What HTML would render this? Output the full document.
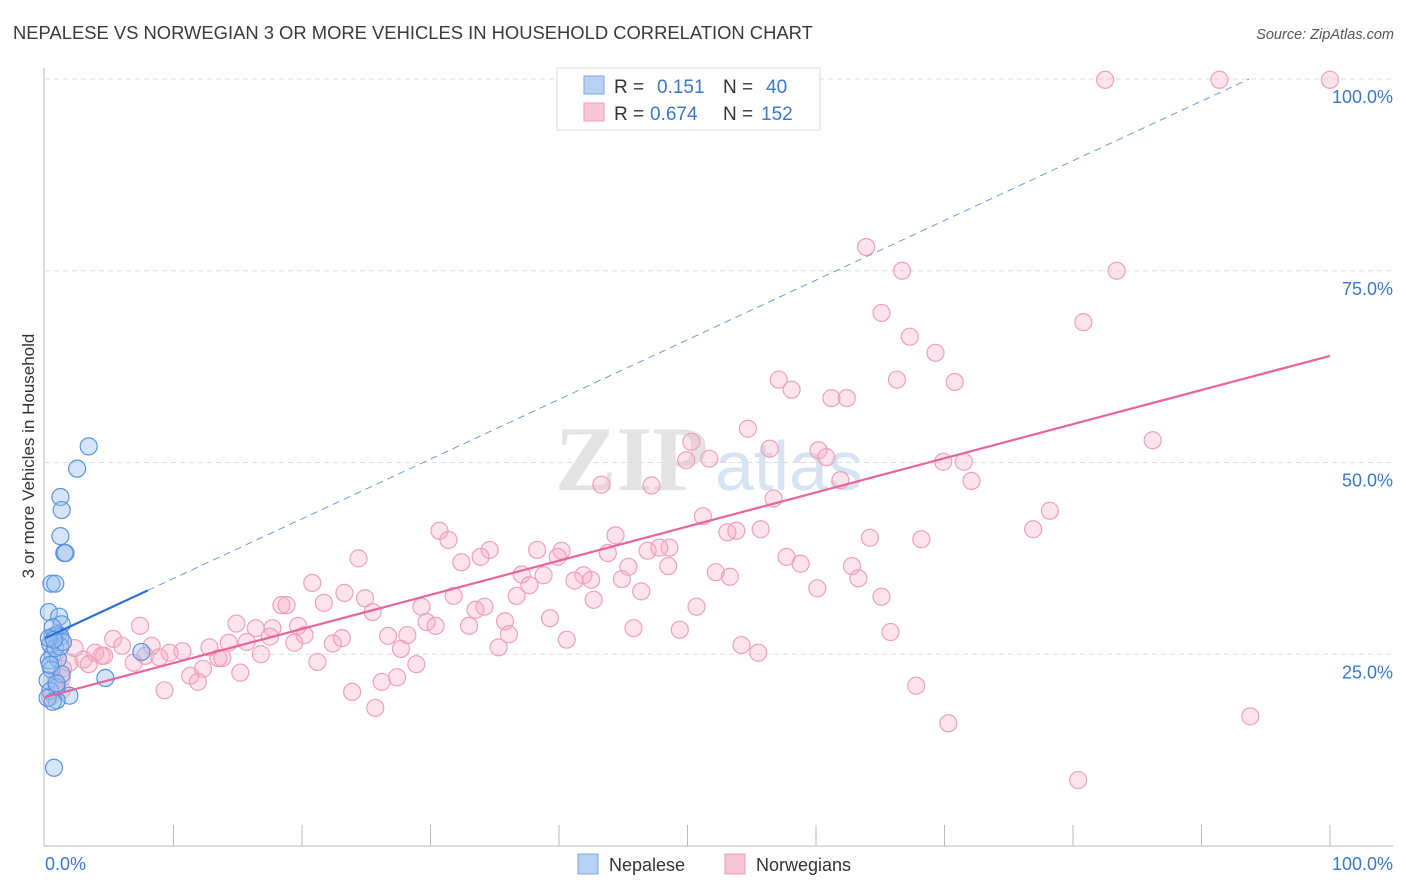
<!DOCTYPE html>
<html><head><meta charset="utf-8"><style>
body{margin:0;background:#fff;font-family:"Liberation Sans",sans-serif}
svg{display:block}
</style></head><body>
<svg id="chart" width="1406" height="892" xmlns="http://www.w3.org/2000/svg" font-family="Liberation Sans, sans-serif">
<text x="13" y="39" font-size="18.4" fill="#3a3a3a">NEPALESE VS NORWEGIAN 3 OR MORE VEHICLES IN HOUSEHOLD CORRELATION CHART</text>
<text x="1394" y="39" font-size="14.5" fill="#555" font-style="italic" text-anchor="end">Source: ZipAtlas.com</text>
<g>
<text x="555" y="490" font-size="92" fill="#d8d8d8" font-family="Liberation Serif, serif" font-weight="bold" opacity="0.7">ZIP</text>
<text x="715" y="490" font-size="70" fill="#c5d8ee" opacity="0.7">atlas</text>
</g>
<g id="grid"></g>
<g id="axes"></g>
<g id="pink"></g>
<g id="blue"></g>
<g id="trends"></g>
<text transform="translate(34,456) rotate(-90)" font-size="17" fill="#333" text-anchor="middle">3 or more Vehicles in Household</text>
<g>
<rect x="557" y="68" width="263" height="62" fill="#fff" stroke="#ddd"/>
<rect x="584" y="76" width="20" height="18" fill="#b8d2f4" stroke="#7aa6e0"/>
<rect x="584" y="103" width="20" height="18" fill="#f9c6d5" stroke="#f09ab4"/>
<text x="614" y="93" font-size="19" fill="#333">R =</text>
<text x="657" y="93" font-size="19" fill="#3a78d0">0.151</text>
<text x="723" y="93" font-size="19" fill="#333">N =</text>
<text x="766" y="93" font-size="19" fill="#3a78d0">40</text>
<text x="614" y="120" font-size="19" fill="#333">R =</text>
<text x="650" y="120" font-size="19" fill="#3a78d0">0.674</text>
<text x="723" y="120" font-size="19" fill="#333">N =</text>
<text x="761" y="120" font-size="19" fill="#3a78d0">152</text>
</g>
<g>
<rect x="578" y="854" width="20" height="20" fill="#b8d2f4" stroke="#7aa6e0"/>
<text x="609" y="871" font-size="18" fill="#333">Nepalese</text>
<rect x="725" y="854" width="20" height="20" fill="#f9c6d5" stroke="#f09ab4"/>
<text x="756" y="871" font-size="18" fill="#333">Norwegians</text>
</g>
</svg>
<script>
const yTicks=[25,50,75,100];
const yTickLabels=["25.0%","50.0%","75.0%","100.0%"];
const xTicks=[10,20,30,40,50,60,70,80,90,100];
const blueX=[3.4,2.5,1.2,1.3,1.2,1.5,1.6,0.5,0.8,0.3,1.1,1.3,0.8,0.6,1.0,1.2,7.5,4.7,1.9,0.9,0.7,0.4,0.6,0.3,1.0,0.5,0.2,0.9,0.4,0.8,1.2,0.6,1.3,0.2,0.6,0.9,0.4,1.4,0.3,0.7];
const blueY=[52.1,49.2,45.5,43.8,40.4,38.2,38.2,34.2,34.2,30.5,29.9,28.9,27.5,27.3,27.6,27.3,25.3,21.9,19.6,19.0,10.2,26.3,25.0,24.2,24.4,23.0,21.6,20.7,20.2,25.8,26.0,28.5,22.4,19.3,18.8,21.2,23.6,26.6,27.1,26.9];
const pinkX=[82.5,91.4,100,63.9,66.7,83.4,65.1,80.8,67.3,69.3,57.1,66.3,70.8,58.1,61.2,62.4,54.7,86.2,50.3,56.4,60.2,60.8,49.9,51.7,69.9,71.5,61.9,72.1,43.3,47.2,56.7,78.2,51.2,76.9,30.7,53.1,53.8,55.7,44.4,31.4,64.2,68.2,34.6,38.3,40.2,43.8,46.9,48.6,47.8,24.4,39.9,33.9,32.4,57.7,58.8,48.5,45.4,62.8,37.1,38.8,52.2,53.3,41.9,42.5,44.9,63.3,20.8,37.7,41.2,46.4,60.1,23.3,31.8,36.7,24.9,42.7,65.1,21.7,18.4,18.8,25.5,29.3,33.5,34.2,50.7,39.3,29.7,30.4,35.8,33.0,7.4,14.9,16.4,17.7,19.7,45.8,49.4,65.8,20.2,23.1,26.7,28.2,36.1,5.3,14.3,17.5,15.7,19.4,22.4,40.6,54.2,6.0,8.3,12.8,27.7,35.3,10.7,9.7,2.3,3.9,55.5,16.8,4.4,4.6,7.8,8.9,13.5,13.8,3.0,1.9,6.9,21.2,28.9,3.4,12.3,1.4,15.2,11.3,27.4,11.9,26.2,67.8,9.3,23.9,0.8,1.3,0.4,25.7,70.3,93.8,80.4,1.3];
const pinkY=[99.9,99.9,99.9,78.1,75,75,69.5,68.3,66.4,64.3,60.8,60.8,60.5,59.5,58.4,58.4,54.4,52.9,52.7,51.8,51.6,50.7,50.3,50.5,50.1,50.1,47.7,47.6,47.1,47.0,45.3,43.7,43.0,41.3,41.1,40.9,41.1,41.3,40.5,39.9,40.2,40.0,38.6,38.6,38.5,38.2,38.5,38.9,38.9,37.5,37.7,37.7,37.0,37.7,36.8,36.5,36.4,36.5,35.4,35.3,35.7,35.1,35.3,34.7,34.8,34.9,34.3,34.0,34.6,33.2,33.6,33.0,32.6,32.6,32.3,32.1,32.5,31.7,31.4,31.4,30.5,31.2,30.8,31.2,31.2,29.7,29.2,28.7,29.3,28.7,28.7,29.0,28.4,28.4,28.7,28.4,28.2,27.9,27.5,27.1,27.4,27.5,27.6,27.0,26.5,27.3,26.6,26.5,26.4,26.9,26.2,26.1,26.1,25.9,25.7,25.9,25.4,25.2,25.8,25.2,25.2,25.0,24.8,24.8,24.8,24.6,24.5,24.5,24.3,23.9,23.9,24.0,23.7,23.7,23.1,23.1,22.6,22.2,22.0,21.4,21.4,20.9,20.3,20.1,21.6,20.3,19.4,18.0,16.0,16.9,8.6,21.9];
const blueTrend=[27.1,0.778]; // intercept, slope
const pinkTrend=[19.4,0.445];
const NS="http://www.w3.org/2000/svg";
const X=v=>45+v*12.85, Y=v=>846-v*7.67;
function mk(tag,attrs,parent){const e=document.createElementNS(NS,tag);for(const k in attrs)e.setAttribute(k,attrs[k]);parent.appendChild(e);return e;}
const grid=document.getElementById('grid'),axes=document.getElementById('axes');
yTicks.forEach((t,i)=>{
 const l=mk('line',{x1:45,x2:1393,y1:Y(t),y2:Y(t),stroke:'#ddd','stroke-dasharray':'5,4'},grid);
 
 
 const tx=mk('text',{x:1393,y:Y(t)+24,'font-size':18,fill:'#3a78d0','text-anchor':'end'},axes);
 tx.textContent=yTickLabels[i];
 
 
});
mk('line',{x1:44,x2:44,y1:68,y2:846,stroke:'#bbb'},axes);
mk('line',{x1:44,x2:1393,y1:846,y2:846,stroke:'#bbb'},axes);
xTicks.forEach(t=>{const l=mk('line',{x1:X(t),x2:X(t),y1:825,y2:846,stroke:'#bbb'},axes);
 
 });
let a=mk('text',{x:45,y:870,'font-size':18,fill:'#3a78d0'},axes);a.textContent='0.0%';

a=mk('text',{x:1393,y:870,'font-size':18,fill:'#3a78d0','text-anchor':'end'},axes);a.textContent='100.0%';

const pg=document.getElementById('pink');
pinkX.forEach((x,i)=>{const c=mk('circle',{cx:X(x),cy:Y(pinkY[i]),r:8.5,fill:'rgba(248,170,195,0.33)',stroke:'#f0a0ba','stroke-width':1.2},pg);
 
 });
const bg=document.getElementById('blue');
blueX.forEach((x,i)=>{const c=mk('circle',{cx:X(x),cy:Y(blueY[i]),r:8.5,fill:'rgba(150,190,240,0.4)',stroke:'#5b93dc','stroke-width':1.2},bg);
 
 });
const tg=document.getElementById('trends');
const bx2=(100-blueTrend[0])/blueTrend[1];
let t=mk('line',{x1:X(8),y1:Y(blueTrend[0]+8*blueTrend[1]),x2:X(bx2),y2:Y(100),stroke:'#6a9de0','stroke-width':1,'stroke-dasharray':'7,5'},tg);

t=mk('line',{x1:X(0),y1:Y(blueTrend[0]),x2:X(8),y2:Y(blueTrend[0]+8*blueTrend[1]),stroke:'#2a6fd6','stroke-width':2.2},tg);

t=mk('line',{x1:X(0),y1:Y(pinkTrend[0]),x2:X(100),y2:Y(pinkTrend[0]+100*pinkTrend[1]),stroke:'#e8649a','stroke-width':2.2},tg);

</script>
</body></html>
